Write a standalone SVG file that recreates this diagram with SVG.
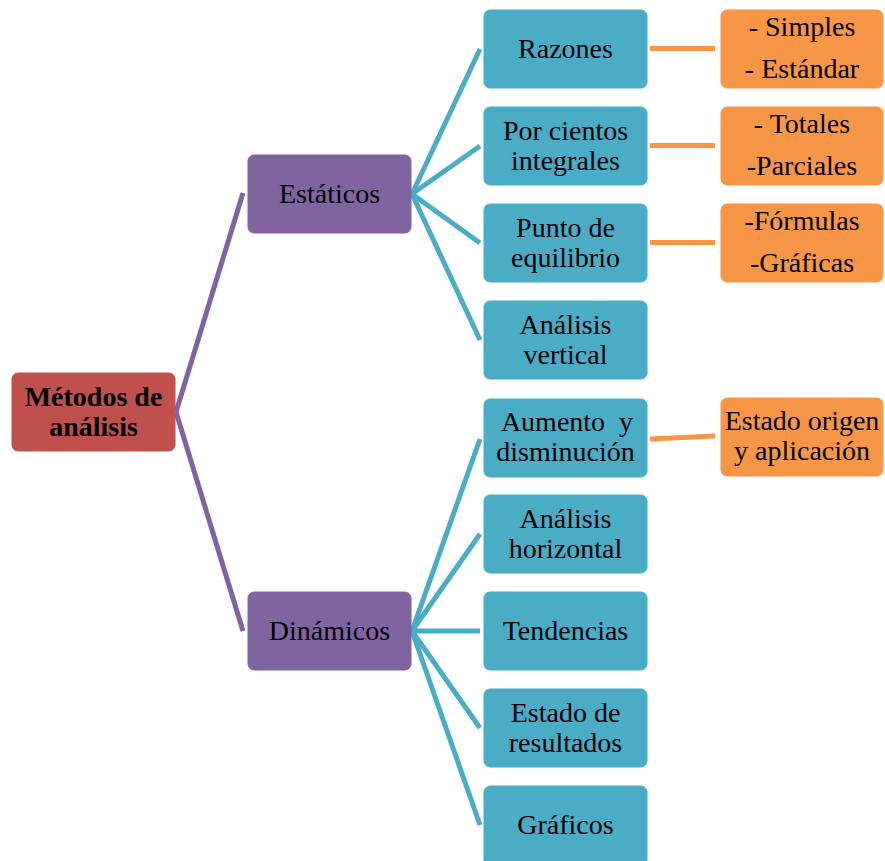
<svg xmlns="http://www.w3.org/2000/svg" width="885" height="861" viewBox="0 0 885 861">
<style>
text{font-family:"Liberation Serif","Times New Roman",serif;font-size:28px;fill:#000;text-anchor:middle}
.b{font-weight:bold}
.root{fill:#C0504D;stroke:#C0504D}
.pur{fill:#8064A2;stroke:#8064A2}
.teal{fill:#4BACC6;stroke:#4BACC6}
.org{fill:#F79646;stroke:#F79646}
rect{stroke-width:1}
.cp{stroke:#8064A2;stroke-width:5;fill:none}
.ct{stroke:#4BACC6;stroke-width:5;fill:none}
.co{stroke:#F79646;stroke-width:5;fill:none}
</style>
<rect width="885" height="861" fill="#fff"/>
<g id="connectors">
<line class="cp" x1="176" y1="412" x2="243" y2="193"/>
<line class="cp" x1="176" y1="412" x2="243" y2="631"/>
<line class="ct" x1="412" y1="194" x2="480" y2="49"/>
<line class="ct" x1="412" y1="194" x2="480" y2="146"/>
<line class="ct" x1="412" y1="194" x2="480" y2="243"/>
<line class="ct" x1="412" y1="194" x2="480" y2="340"/>
<line class="ct" x1="412" y1="631" x2="480" y2="439"/>
<line class="ct" x1="412" y1="631" x2="480" y2="534"/>
<line class="ct" x1="412" y1="631" x2="480" y2="631"/>
<line class="ct" x1="412" y1="631" x2="480" y2="728"/>
<line class="ct" x1="412" y1="631" x2="480" y2="825"/>
<line class="co" x1="650" y1="48.5" x2="715" y2="48.5"/>
<line class="co" x1="650" y1="145.5" x2="715" y2="145.5"/>
<line class="co" x1="650" y1="242.5" x2="715" y2="242.5"/>
<line class="co" x1="650" y1="439" x2="715" y2="436"/>
</g>
<g id="n-root"><rect class="root" x="12" y="373" width="163" height="78" rx="6"/><text class="b" x="93.5" y="406">Métodos de</text><text class="b" x="93.5" y="436">análisis</text></g>
<g id="n-estaticos"><rect class="pur" x="248" y="155" width="163" height="78" rx="6"/><text x="329.5" y="203">Estáticos</text></g>
<g id="n-dinamicos"><rect class="pur" x="248" y="592" width="163" height="78" rx="6"/><text x="329.5" y="640">Dinámicos</text></g>
<g id="n-razones"><rect class="teal" x="484" y="10" width="163" height="78" rx="6"/><text x="565.5" y="58">Razones</text></g>
<g id="n-porcientos"><rect class="teal" x="484" y="107" width="163" height="78" rx="6"/><text x="565.5" y="140">Por cientos</text><text x="565.5" y="170">integrales</text></g>
<g id="n-punto"><rect class="teal" x="484" y="204" width="163" height="78" rx="6"/><text x="565.5" y="237">Punto de</text><text x="565.5" y="267">equilibrio</text></g>
<g id="n-vertical"><rect class="teal" x="484" y="301" width="163" height="78" rx="6"/><text x="565.5" y="334">Análisis</text><text x="565.5" y="364">vertical</text></g>
<g id="n-aumento"><rect class="teal" x="484" y="399" width="163" height="78" rx="6"/><text x="567" y="431" xml:space="preserve">Aumento  y</text><text x="565.5" y="461">disminución</text></g>
<g id="n-horizontal"><rect class="teal" x="484" y="495" width="163" height="78" rx="6"/><text x="565.5" y="528">Análisis</text><text x="565.5" y="558">horizontal</text></g>
<g id="n-tendencias"><rect class="teal" x="484" y="592" width="163" height="78" rx="6"/><text x="565.5" y="640">Tendencias</text></g>
<g id="n-estado"><rect class="teal" x="484" y="689" width="163" height="78" rx="6"/><text x="565.5" y="722">Estado de</text><text x="565.5" y="752">resultados</text></g>
<g id="n-graficos"><rect class="teal" x="484" y="786" width="163" height="80" rx="6"/><text x="565.5" y="834">Gráficos</text></g>
<g id="o-razones"><rect class="org" x="721" y="10" width="162" height="78" rx="6"/><text x="802" y="36">- Simples</text><text x="802" y="78">- Estándar</text></g>
<g id="o-porcientos"><rect class="org" x="721" y="107" width="162" height="78" rx="6"/><text x="802" y="133">- Totales</text><text x="802" y="175">-Parciales</text></g>
<g id="o-punto"><rect class="org" x="721" y="204" width="162" height="78" rx="6"/><text x="802" y="230">-Fórmulas</text><text x="802" y="272">-Gráficas</text></g>
<g id="o-aumento"><rect class="org" x="721" y="398" width="162" height="78" rx="6"/><text x="802" y="430">Estado origen</text><text x="802" y="460">y aplicación</text></g>
</svg>
